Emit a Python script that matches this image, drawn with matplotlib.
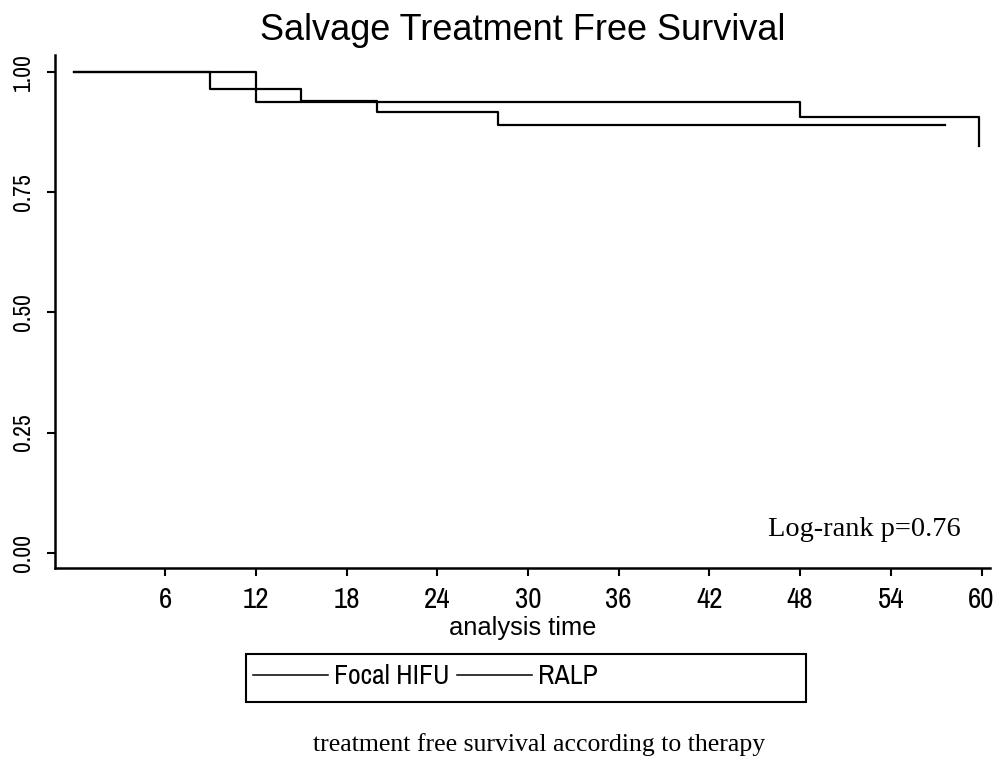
import matplotlib
matplotlib.use("Agg")
import matplotlib.pyplot as plt
import matplotlib.font_manager as fm
from matplotlib.patches import Rectangle

# ---- data ----
hifu_times = [0, 9, 15, 20, 28, 57.6]
hifu_surv = [1.0, 0.965, 0.940, 0.918, 0.891, 0.891]
ralp_times = [0, 12, 48, 59.8, 59.8]
ralp_surv = [1.0, 0.938, 0.906, 0.906, 0.846]
xticks = [6, 12, 18, 24, 30, 36, 42, 48, 54, 60]
yticks = [0.00, 0.25, 0.50, 0.75, 1.00]
ytick_labels = ["0.00", "0.25", "0.50", "0.75", "1.00"]
series_names = ["Focal HIFU", "RALP"]
title = "Salvage Treatment Free Survival"
xlabel = "analysis time"
annot = "Log-rank p=0.76"
caption = "treatment free survival according to therapy"

# look for a condensed sans face, if any is installed
narrow_name = None
narrow_stretch = "normal"
for f in fm.fontManager.ttflist:
    if ("Narrow" in f.name or "Condensed" in f.name) and "Mono" not in f.name:
        narrow_name = f.name
        break
if narrow_name is None:
    for f in fm.fontManager.ttflist:
        if "condensed" in str(f.stretch) and "Mono" not in f.name and "Serif" not in f.name:
            narrow_name = f.name
            narrow_stretch = f.stretch
            break
narrow = ([narrow_name] if narrow_name else []) + ["Liberation Sans", "DejaVu Sans"]
sans = ["Liberation Sans", "DejaVu Sans"]
serif = ["Liberation Serif", "DejaVu Serif"]

W, H = 998, 780
fig = plt.figure(figsize=(W / 100, H / 100), dpi=100)
ax = fig.add_axes([55 / W, 1 - 568 / H, (990 - 55) / W, (568 - 55) / H])

l1, = ax.step(hifu_times, hifu_surv, where="post", color="black", lw=1.6)
l2, = ax.step(ralp_times, ralp_surv, where="post", color="black", lw=1.6)

ax.set_xlim(-1.28, 60.56)
ax.set_ylim(-0.032, 1.036)
for s in ["top", "right"]:
    ax.spines[s].set_visible(False)
for s in ["left", "bottom"]:
    ax.spines[s].set_linewidth(1.8)

ax.set_xticks(xticks)
ax.set_xticklabels([str(t) for t in xticks], family=narrow, stretch=narrow_stretch, fontsize=21)
ax.set_yticks(yticks)
ax.set_yticklabels(ytick_labels, family=narrow, stretch=narrow_stretch, fontsize=17,
                   rotation=90, va="center")
ax.tick_params(axis="x", length=6, width=1.5, pad=7)
ax.tick_params(axis="y", length=6, width=1.5, pad=9)

ax.set_xlabel(xlabel, family=sans, fontsize=18.4, labelpad=2)

ax.text((961 - 55) / (990 - 55), (568 - 530) / (568 - 55), annot, transform=ax.transAxes,
        ha="right", va="center", family=serif, fontsize=20.4)

fig.text(523 / W, 1 - 30 / H, title, ha="center", va="center", family=sans, fontsize=26)

# legend
lx0, ly0, lx1, ly1 = 246, 654, 806, 702
fig.patches.append(Rectangle((lx0 / W, 1 - ly1 / H), (lx1 - lx0) / W, (ly1 - ly0) / H,
                             transform=fig.transFigure, fill=False, edgecolor="black", lw=1.5))
leg = fig.legend([l1, l2], series_names, loc="center left",
                 bbox_to_anchor=(228 / W, 1 - 677 / H), ncol=2, frameon=False,
                 prop={"family": narrow, "stretch": narrow_stretch, "size": 20},
                 handlelength=2.7, handletextpad=0.2, columnspacing=0.3)
for h in leg.legend_handles:
    h.set_linewidth(1.1)

fig.text(539 / W, 1 - 745 / H, caption, ha="center", va="center", family=serif, fontsize=18.5)

fig.savefig("out.png", dpi=100)
